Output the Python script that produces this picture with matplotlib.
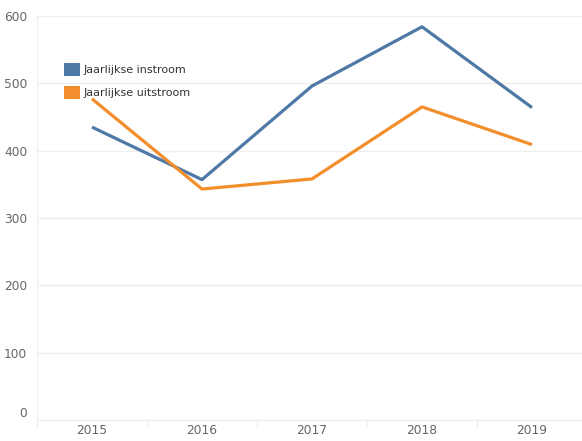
import matplotlib
matplotlib.use("Agg")
import matplotlib.pyplot as plt
import matplotlib.transforms as mtransforms
from matplotlib.patches import Patch

years = ["2015", "2016", "2017", "2018", "2019"]
instroom = [435, 357, 496, 584, 464]
uitstroom = [477, 343, 358, 465, 409]
series_names = ["Jaarlijkse instroom", "Jaarlijkse uitstroom"]
y_ticks = [0, 100, 200, 300, 400, 500, 600]

blue = "#4e79a7"
orange = "#f28e2b"
grid_col = "#efefef"
text_col = "#666666"

W, H = 582, 441
fig = plt.figure(figsize=(W / 100, H / 100), dpi=100)
ax = fig.add_axes([37 / W, 1 - 420 / H, 550 / W, 404 / H])

x = list(range(len(years)))
ax.plot(x, instroom, color=blue, lw=2.3, solid_capstyle="butt", zorder=3)
ax.plot(x, uitstroom, color=orange, lw=2.3, solid_capstyle="butt", zorder=3)

ax.set_xlim(-0.5, len(years) - 0.5)
ax.set_ylim(0, 600)

ax.set_yticks(y_ticks)
ax.set_yticklabels([str(v) for v in y_ticks])
ax.set_xticks(x)
ax.set_xticklabels(years)
ax.set_xticks([i - 0.5 for i in range(len(years))], minor=True)

ax.yaxis.grid(True, color=grid_col, lw=1)
ax.set_axisbelow(True)

for s in ["top", "right"]:
    ax.spines[s].set_visible(False)
ax.spines["left"].set_color(grid_col)
ax.spines["bottom"].set_color(grid_col)

ax.tick_params(axis="y", length=0, pad=7, labelsize=8.8, labelcolor=text_col)
ax.tick_params(axis="x", which="major", length=0, pad=3, labelsize=8.8, labelcolor=text_col)
ax.tick_params(axis="x", which="minor", length=5, color=grid_col, width=1)

# lift the "0" label off the baseline
zero_label = ax.get_yticklabels()[0]
zero_label.set_transform(zero_label.get_transform() +
                         mtransforms.ScaledTranslation(0, 8 / 100, fig.dpi_scale_trans))

handles = [Patch(facecolor=blue), Patch(facecolor=orange)]
fig.legend(handles, series_names, loc="upper left",
           bbox_to_anchor=(55 / W, 1 - 54 / H), frameon=False,
           fontsize=8, handlelength=1.45, handleheight=1.45,
           handletextpad=0.35, labelspacing=0.85, borderpad=0.3,
           labelcolor="#333333")

fig.savefig("out.png", dpi=100)
